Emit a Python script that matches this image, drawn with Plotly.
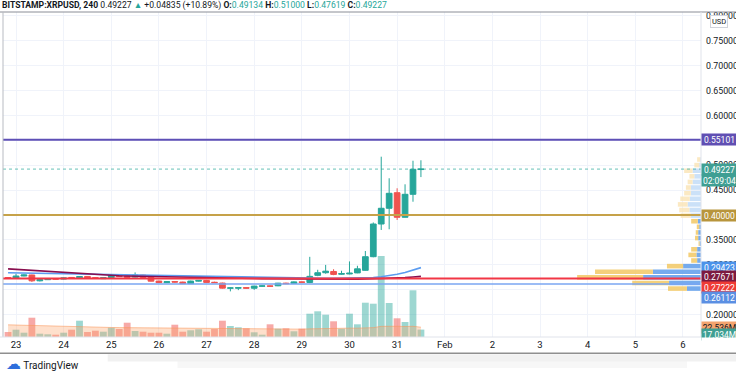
import plotly.graph_objects as go
import pandas as pd

# ---------------- data ----------------
times = pd.date_range("2021-01-22 20:00", periods=53, freq="4h")

opens = [0.2740, 0.2728, 0.2774, 0.2794, 0.2677, 0.2700, 0.2718, 0.2712, 0.2745, 0.2737,
         0.2765, 0.2738, 0.2720, 0.2740, 0.2790, 0.2768, 0.2752, 0.2792, 0.2745, 0.2672,
         0.2640, 0.2662, 0.2652, 0.2620, 0.2670, 0.2685, 0.2648, 0.2632, 0.2528, 0.2530,
         0.2540, 0.2528, 0.2568, 0.2575, 0.2577, 0.2630, 0.2626, 0.2655, 0.2644, 0.2787,
         0.2840, 0.2865, 0.2810, 0.2815, 0.2836, 0.2888, 0.3162, 0.3819, 0.4135, 0.4448,
         0.3954, 0.4416, 0.49134]
highs = [0.2752, 0.2820, 0.2805, 0.2800, 0.2712, 0.2728, 0.2726, 0.2742, 0.2752, 0.2770,
         0.2772, 0.2745, 0.2745, 0.2796, 0.2798, 0.2778, 0.2846, 0.2800, 0.2750, 0.2680,
         0.2668, 0.2672, 0.2660, 0.2680, 0.2692, 0.2690, 0.2660, 0.2640, 0.2545, 0.2548,
         0.2550, 0.2578, 0.2585, 0.2582, 0.2635, 0.2640, 0.2665, 0.2662, 0.3159, 0.2899,
         0.2997, 0.2910, 0.2880, 0.3067, 0.2980, 0.3277, 0.3850, 0.5172, 0.4738, 0.4537,
         0.4617, 0.5091, 0.51000]
lows = [0.2722, 0.2715, 0.2768, 0.2655, 0.2665, 0.2695, 0.2705, 0.2705, 0.2728, 0.2730,
        0.2732, 0.2725, 0.2715, 0.2735, 0.2755, 0.2745, 0.2745, 0.2738, 0.2665, 0.2632,
        0.2635, 0.2640, 0.2612, 0.2615, 0.2662, 0.2640, 0.2635, 0.2520, 0.2465, 0.2490,
        0.2520, 0.2495, 0.2560, 0.2555, 0.2570, 0.2612, 0.2620, 0.2640, 0.2630, 0.2770,
        0.2820, 0.2790, 0.2800, 0.2808, 0.2830, 0.2880, 0.3150, 0.3699, 0.3713, 0.3900,
        0.3950, 0.4267, 0.47619]
closes = [0.2735, 0.2774, 0.2794, 0.2677, 0.2700, 0.2718, 0.2712, 0.2735, 0.2737, 0.2762,
          0.2738, 0.2732, 0.2740, 0.2790, 0.2762, 0.2750, 0.2792, 0.2745, 0.2670, 0.2640,
          0.2660, 0.2652, 0.2620, 0.2672, 0.2685, 0.2645, 0.2640, 0.2530, 0.2535, 0.2538,
          0.2530, 0.2571, 0.2575, 0.2568, 0.2630, 0.2620, 0.2655, 0.2648, 0.2767, 0.2840,
          0.2871, 0.2806, 0.2822, 0.2830, 0.2918, 0.3162, 0.3819, 0.4135, 0.4436, 0.3954,
          0.4416, 0.4919, 0.49227]

# volume in millions
volume = [11.5, 16.8, 9.9, 44.4, 7.6, 6.2, 5.3, 9.9, 16.8, 37.5,
          11.5, 14.5, 12.2, 21.4, 18.4, 32.9, 13.8, 12.2, 9.9, 9.9,
          7.6, 28.3, 12.2, 15.4, 17.7, 12.2, 18.4, 37.5, 25.3, 22.3,
          20.0, 10.8, 5.3, 29.2, 19.1, 20.0, 13.1, 19.1, 53.6, 59.1,
          51.3, 36.1, 19.1, 53.6, 29.2, 78.9, 76.6, 186.3, 78.2, 43.0,
          34.5, 107.4, 17.034]
vol_ma = [28.0, 27.4, 26.8, 26.5, 25.9, 25.3, 24.8, 24.2, 23.8, 23.5,
          23.0, 22.6, 22.2, 21.9, 21.6, 21.4, 21.1, 20.8, 20.5, 20.2,
          19.9, 19.8, 19.6, 19.4, 19.3, 19.1, 19.0, 19.2, 19.3, 19.4,
          19.3, 19.0, 18.6, 18.5, 18.4, 18.3, 18.2, 18.1, 18.7, 19.3,
          19.8, 20.0, 19.9, 20.4, 20.3, 21.0, 21.5, 24.5, 25.2, 24.8,
          24.1, 24.6, 22.536]

ma_blue = [0.2840, 0.2837, 0.2835, 0.2832, 0.2829, 0.2826, 0.2824, 0.2821, 0.2818, 0.2815,
           0.2813, 0.2810, 0.2808, 0.2806, 0.2802, 0.2798, 0.2794, 0.2790, 0.2786, 0.2782,
           0.2778, 0.2774, 0.2771, 0.2768, 0.2765, 0.2762, 0.2759, 0.2756, 0.2752, 0.2748,
           0.2744, 0.2741, 0.2738, 0.2736, 0.2734, 0.2732, 0.2730, 0.2729, 0.2728, 0.2727,
           0.2726, 0.2727, 0.2728, 0.2730, 0.2733, 0.2738, 0.2745, 0.2760, 0.2782, 0.2810,
           0.2845, 0.2888, 0.29423]
ma_maroon = [0.2918, 0.2907, 0.2896, 0.2886, 0.2875, 0.2864, 0.2854, 0.2843, 0.2833, 0.2822,
             0.2812, 0.2802, 0.2792, 0.2782, 0.2778, 0.2774, 0.2770, 0.2766, 0.2763, 0.2760,
             0.2757, 0.2754, 0.2751, 0.2748, 0.2745, 0.2742, 0.2739, 0.2736, 0.2733, 0.2730,
             0.2727, 0.2724, 0.2721, 0.2719, 0.2717, 0.2715, 0.2713, 0.2712, 0.2711, 0.2710,
             0.2709, 0.2709, 0.2709, 0.2710, 0.2711, 0.2713, 0.2716, 0.2720, 0.2726, 0.2733,
             0.2742, 0.2754, 0.27671]

# visible-range volume profile (24 rows, bottom to top), millions
vp_up = [40, 91, 165, 137, 51, 11, 13, 11, 4, 8, 8, 5,
         9, 29, 33, 38, 32, 29, 29, 24, 19, 24, 5, 2]
vp_down = [54, 105, 188, 165, 46, 17, 23, 17, 3, 9, 7, 7,
           19, 29, 29, 28, 27, 19, 14, 14, 14, 24, 14, 9]

level_lines = [0.55101, 0.40000, 0.27222, 0.26112]
last_price = 0.49227

day_ticks = pd.date_range("2021-01-23", "2021-02-06", freq="D")
day_labels = ["23", "24", "25", "26", "27", "28", "29", "30", "31",
              "Feb", "2", "3", "4", "5", "6"]
price_ticks = [0.20, 0.25, 0.30, 0.35, 0.40, 0.45, 0.50, 0.55, 0.60, 0.65, 0.70, 0.75, 0.80]

# ---------------- styles ----------------
UP = "#26a69a"
DN = "#ef5350"
FONT = "Roboto"
TXT = "#131722"

fig = go.Figure()

# volume (main y axis, hidden)
vol_cols = ["rgba(38,166,154,0.45)" if c >= o else "rgba(239,83,80,0.5)"
            for o, c in zip(opens, closes)]
fig.add_trace(go.Bar(x=times, y=volume, marker=dict(color=vol_cols, line=dict(width=0)),
                     width=4 * 3600 * 1000 * 0.86, xaxis="x", yaxis="y", hoverinfo="skip"))
fig.add_trace(go.Scatter(x=times, y=vol_ma, mode="lines",
                         line=dict(color="rgba(250,150,90,0.55)", width=1),
                         fill="tozeroy", fillcolor="rgba(252,160,100,0.33)",
                         xaxis="x", yaxis="y", hoverinfo="skip"))

# volume profile
lo, hi = min(lows), max(highs)
n_rows = len(vp_up)
row_h = (hi - lo) / n_rows
row_mid = [lo + (i + 0.5) * row_h for i in range(n_rows)]
tot = [u + d for u, d in zip(vp_up, vp_down)]
poc = tot.index(max(tot))
va = {poc}
acc = tot[poc]
a, b = poc, poc
target = 0.7 * sum(tot)
while acc < target:
    up_pair = [k for k in (b + 1, b + 2) if k < n_rows]
    dn_pair = [k for k in (a - 1, a - 2) if k >= 0]
    if not up_pair and not dn_pair:
        break
    su = sum(tot[k] for k in up_pair)
    sd = sum(tot[k] for k in dn_pair)
    if su >= sd:
        for k in up_pair:
            va.add(k)
        acc += su
        b = max(up_pair)
    else:
        for k in dn_pair:
            va.add(k)
        acc += sd
        a = min(dn_pair)
up_cols = ["rgba(94,156,234,0.85)" if i in va else "rgba(190,218,246,0.8)" for i in range(n_rows)]
dn_cols = ["rgba(242,200,100,0.85)" if i in va else "rgba(250,228,180,0.8)" for i in range(n_rows)]
fig.add_trace(go.Bar(orientation="h", y=row_mid, x=vp_up, base=[0] * n_rows,
                     width=row_h * 0.82, marker=dict(color=up_cols, line=dict(width=0)),
                     xaxis="x3", yaxis="y2", hoverinfo="skip"))
fig.add_trace(go.Bar(orientation="h", y=row_mid, x=vp_down, base=vp_up,
                     width=row_h * 0.82, marker=dict(color=dn_cols, line=dict(width=0)),
                     xaxis="x3", yaxis="y2", hoverinfo="skip"))

# moving averages
fig.add_trace(go.Scatter(x=times, y=ma_blue, mode="lines", line=dict(color="#5b9cf0", width=1.6),
                         xaxis="x", yaxis="y2", hoverinfo="skip"))
fig.add_trace(go.Scatter(x=times, y=ma_maroon, mode="lines", line=dict(color="#880e4f", width=1.6),
                         xaxis="x", yaxis="y2", hoverinfo="skip"))

# candles
fig.add_trace(go.Candlestick(x=times, open=opens, high=highs, low=lows, close=closes,
                             increasing=dict(line=dict(color=UP, width=1), fillcolor=UP),
                             decreasing=dict(line=dict(color=DN, width=1), fillcolor=DN),
                             whiskerwidth=0, xaxis="x", yaxis="y2", hoverinfo="skip"))

# ---------------- shapes ----------------
line_cols = ["#5e4fb6", "#c6a249", "#f23645", "#7aa6f2"]
line_w = [2, 2, 2, 1.5]
shapes = []
for v, c, w in zip(level_lines, line_cols, line_w):
    shapes.append(dict(type="line", xref="paper", x0=0, x1=1, yref="y2", y0=v, y1=v,
                       line=dict(color=c, width=w), layer="above"))
shapes.append(dict(type="line", xref="paper", x0=0, x1=1, yref="y2", y0=last_price, y1=last_price,
                   line=dict(color="rgba(38,166,154,0.7)", width=1, dash="dot"), layer="above"))
# frame lines
shapes.append(dict(type="line", xref="paper", yref="paper", x0=-0.01, x1=1.06, y0=1, y1=1,
                   line=dict(color="#8a8d96", width=1)))
shapes.append(dict(type="line", xref="paper", yref="paper", x0=0, x1=0, y0=0, y1=1,
                   line=dict(color="#b8bbc2", width=1)))
shapes.append(dict(type="line", xref="paper", yref="paper", x0=-0.01, x1=1.06, y0=0, y1=0,
                   line=dict(color="#e0e3eb", width=1)))
shapes.append(dict(type="line", xref="paper", yref="paper", x0=1, x1=1, y0=0, y1=1,
                   line=dict(color="#e0e3eb", width=1)))
shapes.append(dict(type="line", xref="paper", yref="paper", x0=-0.01, x1=1.06, y0=-0.050, y1=-0.050,
                   line=dict(color="#8f8f8f", width=1.5)))
shapes.append(dict(type="rect", xref="paper", yref="paper", x0=0.15, x1=1.06, y0=-0.053, y1=-0.075,
                   line=dict(width=0), fillcolor="rgba(0,0,0,0.055)"))
shapes.append(dict(type="rect", xref="paper", yref="paper", x0=0.25, x1=0.98, y0=-0.075, y1=-0.095,
                   line=dict(width=0), fillcolor="rgba(0,0,0,0.03)"))

# ---------------- annotations ----------------
ann = []


def tag(yv, yref, text, bg, fg="white", yshift=0):
    ann.append(dict(xref="paper", x=1, xanchor="left", xshift=0, yref=yref, y=yv, yshift=yshift,
                    yanchor="middle", text=text, showarrow=False, bgcolor=bg, width=33, height=9,
                    align="center", font=dict(family=FONT, size=8.5, color=fg), borderpad=1))


tag(level_lines[0], "y2", "0.55101", "#604fb3")
tag(last_price, "y2", "0.49227", "#3f9f93")
tag(last_price, "y2", "02:09:04", "#3f9f93", yshift=-11)
tag(level_lines[1], "y2", "0.40000", "#b8953c")
tag(ma_blue[-1], "y2", "0.29423", "#4c93ea")
tag(ma_maroon[-1], "y2", "0.27671", "#7c1a40")
tag(level_lines[2], "y2", "0.27222", "#ef3b36", yshift=-9)
tag(level_lines[3], "y2", "0.26112", "#5b8fe3", yshift=-13)
tag(vol_ma[-1], "y", "22.536M", "#f3a36e", fg=TXT)
tag(volume[-1], "y", "17.034M", "#3f9f93", yshift=-5)
# clip lower part of last tag at pane bottom
ann.append(dict(xref="paper", x=1, xanchor="left", xshift=0, yref="paper", y=0, yanchor="top",
                text=" ", showarrow=False, bgcolor="white", width=36, height=8))

ann.append(dict(xref="paper", x=1, xanchor="left", xshift=9, yref="paper", y=0.972, yanchor="middle",
                text="USD", showarrow=False, bgcolor="white", bordercolor="#d1d4dc", borderwidth=1,
                borderpad=1, font=dict(family=FONT, size=7.5, color=TXT)))

G = "color:#26a69a"
hdr = ("<b>BITSTAMP:XRPUSD, 240</b> "
       "0.49227 <span style='" + G + "'>▲</span> +0.04835 (+10.89%) "
       "<b>O:</b><span style='" + G + "'>0.49134</span> "
       "<b>H:</b><span style='" + G + "'>0.51000</span> "
       "<b>L:</b><span style='" + G + "'>0.47619</span> "
       "<b>C:</b><span style='" + G + "'>0.49227</span>")
ann.append(dict(xref="paper", x=0, xanchor="left", xshift=-3, yref="paper", y=1, yanchor="bottom",
                yshift=-1, text=hdr, showarrow=False, font=dict(family=FONT, size=8.6, color=TXT)))

ann.append(dict(xref="paper", x=0, xanchor="left", xshift=1, yref="paper", y=-0.083, yanchor="middle",
                text="<span style='color:#2f6fdc;font-size:15px'>☁</span> TradingView",
                showarrow=False, font=dict(family=FONT, size=10, color=TXT)))

fig.update_layout(
    width=736, height=373,
    margin=dict(l=3, r=35, t=12, b=36),
    paper_bgcolor="white", plot_bgcolor="white",
    showlegend=False, barmode="overlay", boxgap=0.28, boxgroupgap=0,
    font=dict(family=FONT, color=TXT),
    xaxis=dict(type="date", range=["2021-01-22 17:27", "2021-02-06 09:06"],
               tickvals=day_ticks, ticktext=day_labels, showgrid=True, gridcolor="#f0f3fa",
               zeroline=False, showline=False, ticks="", automargin=False,
               tickfont=dict(family=FONT, size=9.5, color=TXT),
               rangeslider=dict(visible=False)),
    yaxis=dict(range=[0, 747.5], visible=False, fixedrange=True),
    yaxis2=dict(overlaying="y", side="right", anchor="x", range=[0.1548, 0.808],
                tickvals=price_ticks, tickformat=".5f", showgrid=True, gridcolor="#f0f3fa",
                zeroline=False, showline=False, ticks="", automargin=False,
                ticklabelstandoff=4,
                tickfont=dict(family=FONT, size=8.8, color=TXT)),
    xaxis3=dict(overlaying="x", anchor="y2", range=[1989, 0], visible=False),
    shapes=shapes,
    annotations=ann,
)

fig.write_html("out.html", config={"displayModeBar": False},
               post_script="document.body.style.margin='0px';document.body.style.overflow='hidden';")
